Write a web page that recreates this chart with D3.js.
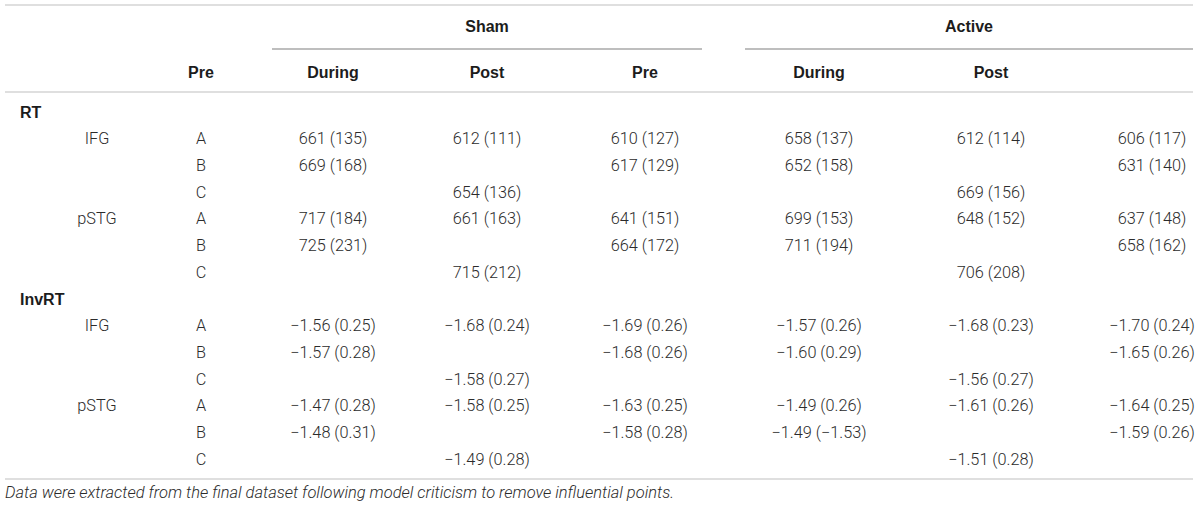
<!DOCTYPE html>
<html>
<head>
<meta charset="utf-8">
<script src="https://cdn.jsdelivr.net/npm/d3@7"></script>
<style>
  html, body { margin: 0; padding: 0; background: #fff; }
  svg { display: block; }
  .body { font-family: Roboto, "Liberation Sans", sans-serif; font-weight: 300; font-size: 16.3px; fill: #2b2b2b; }
  .head { font-family: "Liberation Sans", Arial, sans-serif; font-weight: 700; font-size: 16px; fill: #1c1c1c; }
  .note { font-family: Roboto, "Liberation Sans", sans-serif; font-weight: 300; font-style: italic; font-size: 14px; fill: #2b2b2b; }
</style>
</head>
<body>
<div id="table"></div>
<script>
// --- data ---
var groups = ["Sham", "Active"];
var colHeaders = ["Pre", "During", "Post", "Pre", "During", "Post"];
var measures = ["RT", "InvRT"];
var regions = ["IFG", "pSTG"];
var sessions = ["A", "B", "C"];

// means, one row per measure/region/session, six columns (null = empty cell)
var rtMeans = [
  [661, 612, 610, 658, 612, 606],
  [669, null, 617, 652, null, 631],
  [null, 654, null, null, 669, null],
  [717, 661, 641, 699, 648, 637],
  [725, null, 664, 711, null, 658],
  [null, 715, null, null, 706, null]
];
var rtSds = [
  [135, 111, 127, 137, 114, 117],
  [168, null, 129, 158, null, 140],
  [null, 136, null, null, 156, null],
  [184, 163, 151, 153, 152, 148],
  [231, null, 172, 194, null, 162],
  [null, 212, null, null, 208, null]
];
var invMeans = [
  [-1.56, -1.68, -1.69, -1.57, -1.68, -1.70],
  [-1.57, null, -1.68, -1.60, null, -1.65],
  [null, -1.58, null, null, -1.56, null],
  [-1.47, -1.58, -1.63, -1.49, -1.61, -1.64],
  [-1.48, null, -1.58, -1.49, null, -1.59],
  [null, -1.49, null, null, -1.51, null]
];
var invSds = [
  [0.25, 0.24, 0.26, 0.26, 0.23, 0.24],
  [0.28, null, 0.26, 0.29, null, 0.26],
  [null, 0.27, null, null, 0.27, null],
  [0.28, 0.25, 0.25, 0.26, 0.26, 0.25],
  [0.31, null, 0.28, -1.53, null, 0.26],
  [null, 0.28, null, null, 0.28, null]
];
var footnote = "Data were extracted from the final dataset following model criticism to remove influential points.";

// --- layout ---
var W = 1200, H = 510;
var left = 5, right = 1193;

var svg = d3.select("#table").append("svg")
    .attr("width", W)
    .attr("height", H);

// row index -> vertical centre
var nRows = 14;
var y = d3.scaleLinear().domain([0, nRows - 1]).range([112, 459]);

// column centres: 0 = session column, 1..6 = data columns
var colX = d3.scaleOrdinal()
    .domain(d3.range(7))
    .range([201, 333, 487, 645, 819, 991, 1152]);

var base = 5.7; // centre -> baseline offset for 16px text

function rule(x1, x2, yy, color, w) {
  svg.append("line")
      .attr("x1", x1).attr("x2", x2)
      .attr("y1", yy).attr("y2", yy)
      .attr("stroke", color)
      .attr("stroke-width", w);
}

// rules
rule(left, right, 5, "#d4d4d4", 1.6);
rule(272, 702, 49, "#a8a8a8", 1.3);
rule(745, right, 49, "#a8a8a8", 1.3);
rule(left, right, 92, "#d4d4d4", 1.6);
rule(left, right, 479, "#d4d4d4", 1.6);

// group headers
var groupX = d3.scaleOrdinal().domain(groups).range([487, 969]);
svg.selectAll("text.group")
    .data(groups)
    .enter().append("text")
    .attr("class", "head group")
    .attr("x", function(d) { return groupX(d); })
    .attr("y", 26 + base)
    .attr("text-anchor", "middle")
    .text(function(d) { return d; });

// column headers (sit one column left, as in the original)
svg.selectAll("text.colhead")
    .data(colHeaders)
    .enter().append("text")
    .attr("class", "head colhead")
    .attr("x", function(d, i) { return colX(i); })
    .attr("y", 72 + base)
    .attr("text-anchor", "middle")
    .text(function(d) { return d; });

// build body rows
var fmtRT = d3.format("d");
var fmtInv = d3.format(".2f");
var rows = [];
measures.forEach(function(m, mi) {
  rows.push({ type: "measure", label: m });
  var means = mi === 0 ? rtMeans : invMeans;
  var sds = mi === 0 ? rtSds : invSds;
  var fmt = mi === 0 ? fmtRT : fmtInv;
  regions.forEach(function(r, ri) {
    sessions.forEach(function(s, si) {
      var k = ri * 3 + si;
      rows.push({
        type: "data",
        region: si === 0 ? r : "",
        session: s,
        cells: means[k].map(function(v, j) {
          return v === null ? "" : fmt(v) + " (" + fmt(sds[k][j]) + ")";
        })
      });
    });
  });
});

var g = svg.selectAll("g.row")
    .data(rows)
    .enter().append("g")
    .attr("class", "row")
    .attr("transform", function(d, i) { return "translate(0," + (y(i) + base) + ")"; });

g.filter(function(d) { return d.type === "measure"; })
  .append("text")
    .attr("class", "head")
    .attr("x", 20)
    .text(function(d) { return d.label; });

var dr = g.filter(function(d) { return d.type === "data"; });

dr.append("text")
    .attr("class", "body")
    .attr("x", 97)
    .attr("text-anchor", "middle")
    .text(function(d) { return d.region; });

dr.append("text")
    .attr("class", "body")
    .attr("x", colX(0))
    .attr("text-anchor", "middle")
    .text(function(d) { return d.session; });

dr.selectAll("text.cell")
    .data(function(d) { return d.cells; })
    .enter().append("text")
    .attr("class", "body cell")
    .attr("x", function(d, j) { return colX(j + 1); })
    .attr("text-anchor", "middle")
    .text(function(d) { return d; });

// footnote
var note = svg.append("text")
    .attr("class", "note")
    .attr("x", left)
    .attr("y", 498)
    .text(footnote);
// fit the note to the reference width
var len = note.node().getComputedTextLength();
note.style("font-size", (14 * 670 / len).toFixed(2) + "px");
</script>
</body>
</html>
